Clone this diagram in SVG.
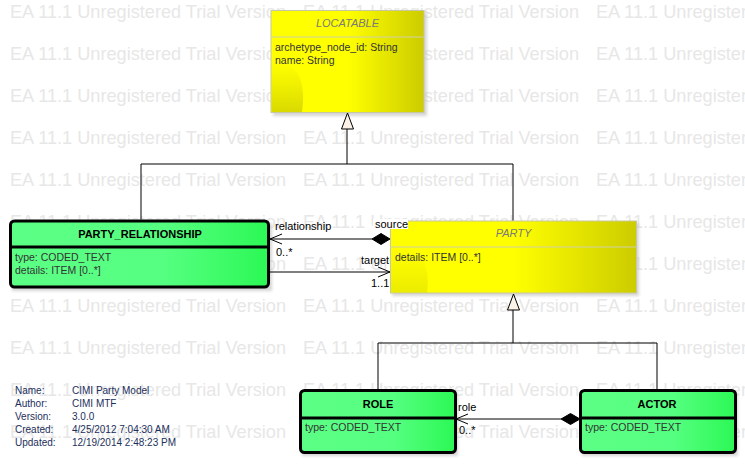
<svg xmlns="http://www.w3.org/2000/svg" width="745" height="465" viewBox="0 0 745 465">
<defs>
<linearGradient id="yel" x1="0" y1="0" x2="1" y2="0">
<stop offset="0" stop-color="#ffff00"/>
<stop offset="0.5" stop-color="#ffff00"/>
<stop offset="1" stop-color="#cccc00"/>
</linearGradient>
<linearGradient id="ydark" x1="0" y1="0" x2="0" y2="1">
<stop offset="0" stop-color="#d6d600" stop-opacity="0"/>
<stop offset="1" stop-color="#c8c800" stop-opacity="1"/>
</linearGradient>
<linearGradient id="grn" x1="0" y1="0" x2="1" y2="0">
<stop offset="0" stop-color="#5cff85"/>
<stop offset="0.6" stop-color="#55ff80"/>
<stop offset="1" stop-color="#2cf855"/>
</linearGradient>
<filter id="sh" x="-10%" y="-10%" width="130%" height="130%">
<feGaussianBlur stdDeviation="1.5"/>
</filter>
</defs>
<style>
.wm{font-family:"Liberation Sans",Arial,sans-serif;font-size:18.5px;fill:#e7e7e7}
.t{font-family:"Liberation Sans",Arial,sans-serif;font-size:11px;fill:#000}
.ti{font-family:"Liberation Sans",Arial,sans-serif;font-size:11px;font-style:italic;fill:#7a7a7a}
.tb{font-family:"Liberation Sans",Arial,sans-serif;font-size:11px;font-weight:bold;fill:#000}
.at{font-family:"Liberation Sans",Arial,sans-serif;font-size:10.5px;fill:#333}
.md{font-family:"Liberation Sans",Arial,sans-serif;font-size:10px;fill:#1c2f5c}
.ybox{fill:url(#yel);stroke:#c8c8a0;stroke-width:1}
.gbox{fill:url(#grn);stroke:#000;stroke-width:3}
.shd{fill:#bbbbbb;opacity:0.6;filter:url(#sh)}
.ln{stroke:#000;stroke-width:1;fill:none}
.sepy{stroke:#d0d0a8;stroke-width:1}
.sepg{stroke:#000;stroke-width:3}
.tri{fill:#fbf2e8;stroke:#000;stroke-width:1}
.dia{fill:#000;stroke:#000;stroke-width:1}
</style>
<g id="watermark">
<text class="wm" x="10" y="18" textLength="276" lengthAdjust="spacingAndGlyphs">EA 11.1 Unregistered Trial Version</text>
<text class="wm" x="303" y="18" textLength="276" lengthAdjust="spacingAndGlyphs">EA 11.1 Unregistered Trial Version</text>
<text class="wm" x="596" y="18" textLength="276" lengthAdjust="spacingAndGlyphs">EA 11.1 Unregistered Trial Version</text>
<text class="wm" x="10" y="60" textLength="276" lengthAdjust="spacingAndGlyphs">EA 11.1 Unregistered Trial Version</text>
<text class="wm" x="303" y="60" textLength="276" lengthAdjust="spacingAndGlyphs">EA 11.1 Unregistered Trial Version</text>
<text class="wm" x="596" y="60" textLength="276" lengthAdjust="spacingAndGlyphs">EA 11.1 Unregistered Trial Version</text>
<text class="wm" x="10" y="102" textLength="276" lengthAdjust="spacingAndGlyphs">EA 11.1 Unregistered Trial Version</text>
<text class="wm" x="303" y="102" textLength="276" lengthAdjust="spacingAndGlyphs">EA 11.1 Unregistered Trial Version</text>
<text class="wm" x="596" y="102" textLength="276" lengthAdjust="spacingAndGlyphs">EA 11.1 Unregistered Trial Version</text>
<text class="wm" x="10" y="144" textLength="276" lengthAdjust="spacingAndGlyphs">EA 11.1 Unregistered Trial Version</text>
<text class="wm" x="303" y="144" textLength="276" lengthAdjust="spacingAndGlyphs">EA 11.1 Unregistered Trial Version</text>
<text class="wm" x="596" y="144" textLength="276" lengthAdjust="spacingAndGlyphs">EA 11.1 Unregistered Trial Version</text>
<text class="wm" x="10" y="186" textLength="276" lengthAdjust="spacingAndGlyphs">EA 11.1 Unregistered Trial Version</text>
<text class="wm" x="303" y="186" textLength="276" lengthAdjust="spacingAndGlyphs">EA 11.1 Unregistered Trial Version</text>
<text class="wm" x="596" y="186" textLength="276" lengthAdjust="spacingAndGlyphs">EA 11.1 Unregistered Trial Version</text>
<text class="wm" x="10" y="228" textLength="276" lengthAdjust="spacingAndGlyphs">EA 11.1 Unregistered Trial Version</text>
<text class="wm" x="303" y="228" textLength="276" lengthAdjust="spacingAndGlyphs">EA 11.1 Unregistered Trial Version</text>
<text class="wm" x="596" y="228" textLength="276" lengthAdjust="spacingAndGlyphs">EA 11.1 Unregistered Trial Version</text>
<text class="wm" x="10" y="270" textLength="276" lengthAdjust="spacingAndGlyphs">EA 11.1 Unregistered Trial Version</text>
<text class="wm" x="303" y="270" textLength="276" lengthAdjust="spacingAndGlyphs">EA 11.1 Unregistered Trial Version</text>
<text class="wm" x="596" y="270" textLength="276" lengthAdjust="spacingAndGlyphs">EA 11.1 Unregistered Trial Version</text>
<text class="wm" x="10" y="312" textLength="276" lengthAdjust="spacingAndGlyphs">EA 11.1 Unregistered Trial Version</text>
<text class="wm" x="303" y="312" textLength="276" lengthAdjust="spacingAndGlyphs">EA 11.1 Unregistered Trial Version</text>
<text class="wm" x="596" y="312" textLength="276" lengthAdjust="spacingAndGlyphs">EA 11.1 Unregistered Trial Version</text>
<text class="wm" x="10" y="354" textLength="276" lengthAdjust="spacingAndGlyphs">EA 11.1 Unregistered Trial Version</text>
<text class="wm" x="303" y="354" textLength="276" lengthAdjust="spacingAndGlyphs">EA 11.1 Unregistered Trial Version</text>
<text class="wm" x="596" y="354" textLength="276" lengthAdjust="spacingAndGlyphs">EA 11.1 Unregistered Trial Version</text>
<text class="wm" x="10" y="396" textLength="276" lengthAdjust="spacingAndGlyphs">EA 11.1 Unregistered Trial Version</text>
<text class="wm" x="303" y="396" textLength="276" lengthAdjust="spacingAndGlyphs">EA 11.1 Unregistered Trial Version</text>
<text class="wm" x="596" y="396" textLength="276" lengthAdjust="spacingAndGlyphs">EA 11.1 Unregistered Trial Version</text>
<text class="wm" x="10" y="438" textLength="276" lengthAdjust="spacingAndGlyphs">EA 11.1 Unregistered Trial Version</text>
<text class="wm" x="303" y="438" textLength="276" lengthAdjust="spacingAndGlyphs">EA 11.1 Unregistered Trial Version</text>
<text class="wm" x="596" y="438" textLength="276" lengthAdjust="spacingAndGlyphs">EA 11.1 Unregistered Trial Version</text>
</g>
<g id="LOCATABLE">
<rect class="shd" x="273" y="12" width="154" height="104"/>
<rect class="ybox" x="271" y="10.5" width="153" height="102"/>
<path d="M271.5,62 Q309,62 302,112 H271.5 Z" fill="url(#ydark)" opacity="0.7"/>
<line class="sepy" x1="271.5" y1="37" x2="423.5" y2="37"/>
<text class="ti" x="347.5" y="27" text-anchor="middle">LOCATABLE</text>
<text class="at" x="275" y="51">archetype_node_id: String</text>
<text class="at" x="275" y="64">name: String</text>
</g>
<g id="PARTY">
<rect class="shd" x="392" y="223" width="247" height="73"/>
<rect class="ybox" x="390.5" y="221" width="246" height="72"/>
<path d="M391,246 Q433,246 427,292.5 H391 Z" fill="url(#ydark)" opacity="0.35"/>
<line class="sepy" x1="391" y1="247" x2="636" y2="247"/>
<text class="ti" x="513.5" y="237" text-anchor="middle">PARTY</text>
<text class="at" x="395" y="261">details: ITEM [0..*]</text>
</g>
<g id="PARTY_RELATIONSHIP">
<rect class="shd" x="12" y="223" width="260" height="68"/>
<rect class="gbox" x="10.5" y="221" width="258" height="66" rx="4"/>
<line class="sepg" x1="10.5" y1="247" x2="268.5" y2="247"/>
<text class="tb" x="140" y="238" text-anchor="middle">PARTY_RELATIONSHIP</text>
<text class="at" x="15" y="261">type: CODED_TEXT</text>
<text class="at" x="15" y="274">details: ITEM [0..*]</text>
</g>
<g id="ROLE">
<rect class="shd" x="302" y="392" width="156" height="64"/>
<rect class="gbox" x="300.5" y="390.5" width="155" height="62" rx="4"/>
<line class="sepg" x1="300.5" y1="418" x2="455.5" y2="418"/>
<text class="tb" x="378" y="408" text-anchor="middle">ROLE</text>
<text class="at" x="305" y="431">type: CODED_TEXT</text>
</g>
<g id="ACTOR">
<rect class="shd" x="582" y="392" width="156" height="64"/>
<rect class="gbox" x="580.5" y="390.5" width="155" height="62" rx="4"/>
<line class="sepg" x1="580.5" y1="418" x2="735.5" y2="418"/>
<text class="tb" x="657" y="408" text-anchor="middle">ACTOR</text>
<text class="at" x="585" y="431">type: CODED_TEXT</text>
</g>
<g id="connectors">
<path class="ln" d="M141,219.5 V164 H513 V220.5"/>
<path class="ln" d="M347,164 V129"/>
<path class="tri" d="M347.5,113 L353.5,129 L341.5,129 Z"/>
<path class="ln" d="M378,389 V343 H657 V389"/>
<path class="ln" d="M513,343 V310"/>
<path class="tri" d="M513.5,294 L519.5,310 L507.5,310 Z"/>
<path class="ln" d="M270,239 H372"/>
<path class="dia" d="M390,239 L381,233.5 L372,239 L381,244.5 Z"/>
<path class="ln" d="M282,234 L270,239 L282,244"/>
<path class="ln" d="M270,272 H390"/>
<path class="ln" d="M378,267 L390,272 L378,277"/>
<path class="ln" d="M456,419 H561"/>
<path class="dia" d="M580,419 L570.5,413.5 L561,419 L570.5,424.5 Z"/>
<path class="ln" d="M468,414 L456,419 L468,424"/>
<text class="t" x="275" y="230">relationship</text>
<text class="t" x="276" y="256">0..*</text>
<rect x="373" y="219" width="35" height="10" fill="#fff"/>
<text class="t" x="375" y="228">source</text>
<text class="t" x="361" y="264">target</text>
<text class="t" x="371" y="287">1..1</text>
<text class="t" x="458" y="411">role</text>
<text class="t" x="459" y="434">0..*</text>
</g>
<g id="metadata">
<text class="md" x="15" y="394">Name:</text>
<text class="md" x="72" y="394">CIMI Party Model</text>
<text class="md" x="15" y="407">Author:</text>
<text class="md" x="72" y="407">CIMI MTF</text>
<text class="md" x="15" y="420">Version:</text>
<text class="md" x="72" y="420">3.0.0</text>
<text class="md" x="15" y="433">Created:</text>
<text class="md" x="72" y="433">4/25/2012 7:04:30 AM</text>
<text class="md" x="15" y="446">Updated:</text>
<text class="md" x="72" y="446">12/19/2014 2:48:23 PM</text>
</g>
</svg>
